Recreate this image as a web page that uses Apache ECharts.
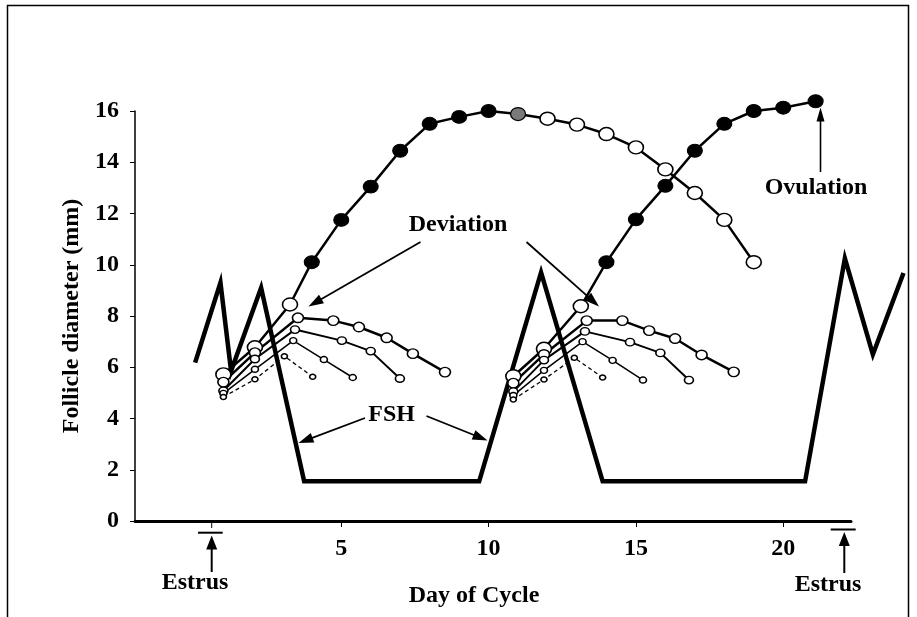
<!DOCTYPE html>
<html><head><meta charset="utf-8">
<script src="https://cdn.jsdelivr.net/npm/echarts@6/dist/echarts.min.js"></script>
<style>html,body{margin:0;padding:0;background:#fff}#c{width:917px;height:617px}</style>
</head><body><div id="c"></div>
<script>
// ---------- data (day of cycle, follicle diameter mm) ----------
const xTickValues = [5, 10, 15, 20];

// Wave 1 dominant follicle
const w1DomEarlyDays = [1.0, 2.07, 3.26];
const w1DomEarlyVals = [5.72, 6.78, 8.45];
const w1DomGrowDays = [4, 5, 6, 7, 8, 9, 10];
const w1DomGrowVals = [10.1, 11.75, 13.05, 14.45, 15.5, 15.77, 16.0];
const w1DomPeakDays = [11];
const w1DomPeakVals = [15.88];
const w1DomRegressDays = [12, 13, 14, 15, 16, 17, 18, 19];
const w1DomRegressVals = [15.7, 15.47, 15.1, 14.58, 13.72, 12.8, 11.75, 10.1];
// Wave 1 subordinate follicles
const w1Sub1Days = [1.0, 2.07, 3.53, 4.73, 5.6, 6.54, 7.43, 8.52];
const w1Sub1Vals = [5.42, 6.57, 7.93, 7.82, 7.57, 7.15, 6.53, 5.81];
const w1Sub2Days = [1.0, 2.07, 3.43, 5.02, 6.0, 6.99];
const w1Sub2Vals = [5.08, 6.32, 7.47, 7.04, 6.63, 5.56];
const w1Sub3Days = [1.0, 2.07, 3.37, 4.41, 5.39];
const w1Sub3Vals = [4.98, 5.92, 7.04, 6.3, 5.6];
const w1Sub4Days = [1.0, 2.07, 3.07, 4.03];
const w1Sub4Vals = [4.84, 5.53, 6.43, 5.63];

// Wave 2 dominant (ovulatory) follicle
const w2DomEarlyDays = [10.84, 11.88, 13.13];
const w2DomEarlyVals = [5.65, 6.72, 8.38];
const w2DomGrowDays = [14, 15, 16, 17, 18, 19, 20, 21.1];
const w2DomGrowVals = [10.1, 11.77, 13.08, 14.45, 15.5, 16.0, 16.13, 16.38];
// Wave 2 subordinate follicles
const w2Sub1Days = [10.84, 11.88, 13.33, 14.54, 15.45, 16.33, 17.23, 18.32];
const w2Sub1Vals = [5.38, 6.5, 7.82, 7.82, 7.43, 7.12, 6.48, 5.82];
const w2Sub2Days = [10.84, 11.88, 13.27, 14.8, 15.83, 16.8];
const w2Sub2Vals = [5.05, 6.28, 7.4, 6.98, 6.56, 5.5];
const w2Sub3Days = [10.84, 11.88, 13.19, 14.21, 15.24];
const w2Sub3Vals = [4.9, 5.88, 7.0, 6.27, 5.5];
const w2Sub4Days = [10.84, 11.88, 12.91, 13.87];
const w2Sub4Vals = [4.74, 5.52, 6.37, 5.6];

// FSH profile (schematic, same vertical scale)
const fshDays = [0.04, 0.9, 1.26, 2.28, 3.74, 9.68, 11.78, 13.87, 20.74, 22.09, 23.04, 24.08];
const fshVals = [6.18, 9.3, 5.85, 9.1, 1.55, 1.55, 9.7, 1.55, 1.55, 10.25, 6.5, 9.68];

// ---------- styles ----------
const FONT = 'Liberation Serif';
const openStyle = {color: '#fff', borderColor: '#000', borderWidth: 1.5};
const filledStyle = {color: '#000', borderColor: '#000', borderWidth: 1};
const grayStyle = {color: '#7a7a7a', borderColor: '#000', borderWidth: 1.2};
const DOM = [15, 13], S1 = [11, 9.5], S2 = [9, 7.5], S3 = [7, 6], S4 = [6, 5];

function pts(days, vals, style, size) {
  return days.map((d, i) => ({value: [d, vals[i]], itemStyle: style, symbolSize: size}));
}
function follicle(name, data, width, type) {
  return {
    name, type: 'line', data, symbol: 'circle', showSymbol: true,
    lineStyle: {color: '#000', width: width, type: type || 'solid'},
    clip: false, animation: false, z: 3, emphasis: {disabled: true}
  };
}

const series = [
  {
    name: 'FSH', type: 'line', xAxisIndex: 1, yAxisIndex: 1,
    data: fshDays.map((d, i) => [d, fshVals[i]]),
    symbol: 'none', lineStyle: {color: '#000', width: 4.5, join: 'miter', miterLimit: 20},
    clip: false, animation: false, z: 2
  },
  follicle('w1dom', [].concat(
    pts(w1DomEarlyDays, w1DomEarlyVals, openStyle, DOM),
    pts(w1DomGrowDays, w1DomGrowVals, filledStyle, DOM),
    pts(w1DomPeakDays, w1DomPeakVals, grayStyle, DOM),
    pts(w1DomRegressDays, w1DomRegressVals, openStyle, DOM)), 2.5),
  follicle('w1s1', pts(w1Sub1Days, w1Sub1Vals, openStyle, S1), 2.5),
  follicle('w1s2', pts(w1Sub2Days, w1Sub2Vals, openStyle, S2), 2),
  follicle('w1s3', pts(w1Sub3Days, w1Sub3Vals, openStyle, S3), 1.5),
  follicle('w1s4', pts(w1Sub4Days, w1Sub4Vals, openStyle, S4), 1.3, [4, 3]),
  follicle('w2dom', [].concat(
    pts(w2DomEarlyDays, w2DomEarlyVals, openStyle, DOM),
    pts(w2DomGrowDays, w2DomGrowVals, filledStyle, DOM)), 2.5),
  follicle('w2s1', pts(w2Sub1Days, w2Sub1Vals, openStyle, S1), 2.5),
  follicle('w2s2', pts(w2Sub2Days, w2Sub2Vals, openStyle, S2), 2),
  follicle('w2s3', pts(w2Sub3Days, w2Sub3Vals, openStyle, S3), 1.5),
  follicle('w2s4', pts(w2Sub4Days, w2Sub4Vals, openStyle, S4), 1.3, [4, 3])
];

// ---------- annotations ----------
function arrow(x1, y1, x2, y2, lw, hl, hw) {
  const a = Math.atan2(y2 - y1, x2 - x1);
  const bx = x2 - hl * Math.cos(a), by = y2 - hl * Math.sin(a);
  const px = -Math.sin(a) * hw / 2, py = Math.cos(a) * hw / 2;
  return [
    {type: 'line', shape: {x1, y1, x2: bx + Math.cos(a), y2: by + Math.sin(a)}, style: {stroke: '#000', lineWidth: lw}},
    {type: 'polygon', shape: {points: [[x2, y2], [bx + px, by + py], [bx - px, by - py]]}, style: {fill: '#000'}}
  ];
}
function label(text, x, y) {
  return {type: 'text', x, y, style: {text, fill: '#000', font: 'bold 24px "' + FONT + '"', textAlign: 'center', textVerticalAlign: 'middle'}};
}
function seg(x1, y1, x2, y2, lw) {
  return {type: 'line', shape: {x1, y1, x2, y2}, style: {stroke: '#000', lineWidth: lw}};
}

const graphics = [].concat(
  [{type: 'rect', shape: {x: 7.5, y: 5.5, width: 901, height: 640}, style: {fill: null, stroke: '#000', lineWidth: 1.5}}],
  arrow(420.5, 242, 308.5, 306.5, 1.8, 15, 10),
  arrow(526.5, 242, 599, 306.5, 1.8, 15, 10),
  arrow(365, 418, 298.5, 443, 1.8, 15, 10),
  arrow(426.5, 416, 487.5, 440.5, 1.8, 15, 10),
  arrow(820.5, 172, 820.5, 107.5, 1.6, 14, 8),
  arrow(211.7, 572, 211.7, 535.5, 2, 14, 11),
  arrow(844.3, 573, 844.3, 532, 2, 14, 11),
  [seg(198, 532.7, 222.7, 532.7, 2), seg(211.7, 523, 211.7, 528, 1),
   seg(830.7, 529.5, 855.7, 529.5, 2)],
  [label('Deviation', 458, 225), label('FSH', 391.7, 415), label('Ovulation', 816, 188),
   label('Estrus', 195, 582.5), label('Estrus', 828, 585)]
);

const chart = echarts.init(document.getElementById('c'), null, {renderer: 'canvas'});
chart.setOption({
  backgroundColor: '#fff',
  animation: false,
  grid: [
    {left: 135, right: 66, top: 111, bottom: 96, containLabel: false},
    {left: 135, right: 7, top: 111, bottom: 96, containLabel: false}
  ],
  xAxis: [{
    type: 'value', min: -2, max: 22.3, gridIndex: 0,
    name: 'Day of Cycle', nameLocation: 'middle', nameGap: 63,
    nameTextStyle: {fontFamily: FONT, fontWeight: 'bold', fontSize: 24, color: '#000', padding: [0, 38, 0, 0]},
    axisLine: {show: true, onZero: true, lineStyle: {color: '#000', width: 3}},
    axisTick: {show: true, inside: false, length: 6, customValues: xTickValues, lineStyle: {color: '#000', width: 1}},
    axisLabel: {customValues: xTickValues, margin: 16, fontFamily: FONT, fontWeight: 'bold', fontSize: 24, color: '#000'},
    splitLine: {show: false}
  }, {
    type: 'value', min: -2, max: 24.3, gridIndex: 1, show: false
  }],
  yAxis: [{
    type: 'value', min: 0, max: 16, interval: 2, gridIndex: 0,
    name: 'Follicle diameter (mm)', nameLocation: 'middle', nameRotate: 90, nameGap: 47,
    nameTextStyle: {fontFamily: FONT, fontWeight: 'bold', fontSize: 24, color: '#000'},
    axisLine: {show: true, onZero: false, lineStyle: {color: '#000', width: 1.5}},
    axisTick: {show: true, inside: false, length: 5, lineStyle: {color: '#000', width: 1}},
    axisLabel: {margin: 16, fontFamily: FONT, fontWeight: 'bold', fontSize: 24, color: '#000'},
    splitLine: {show: false}
  }, {
    type: 'value', min: 0, max: 16, interval: 2, gridIndex: 1, show: false
  }],
  series: series,
  graphic: graphics
});
</script></body></html>
